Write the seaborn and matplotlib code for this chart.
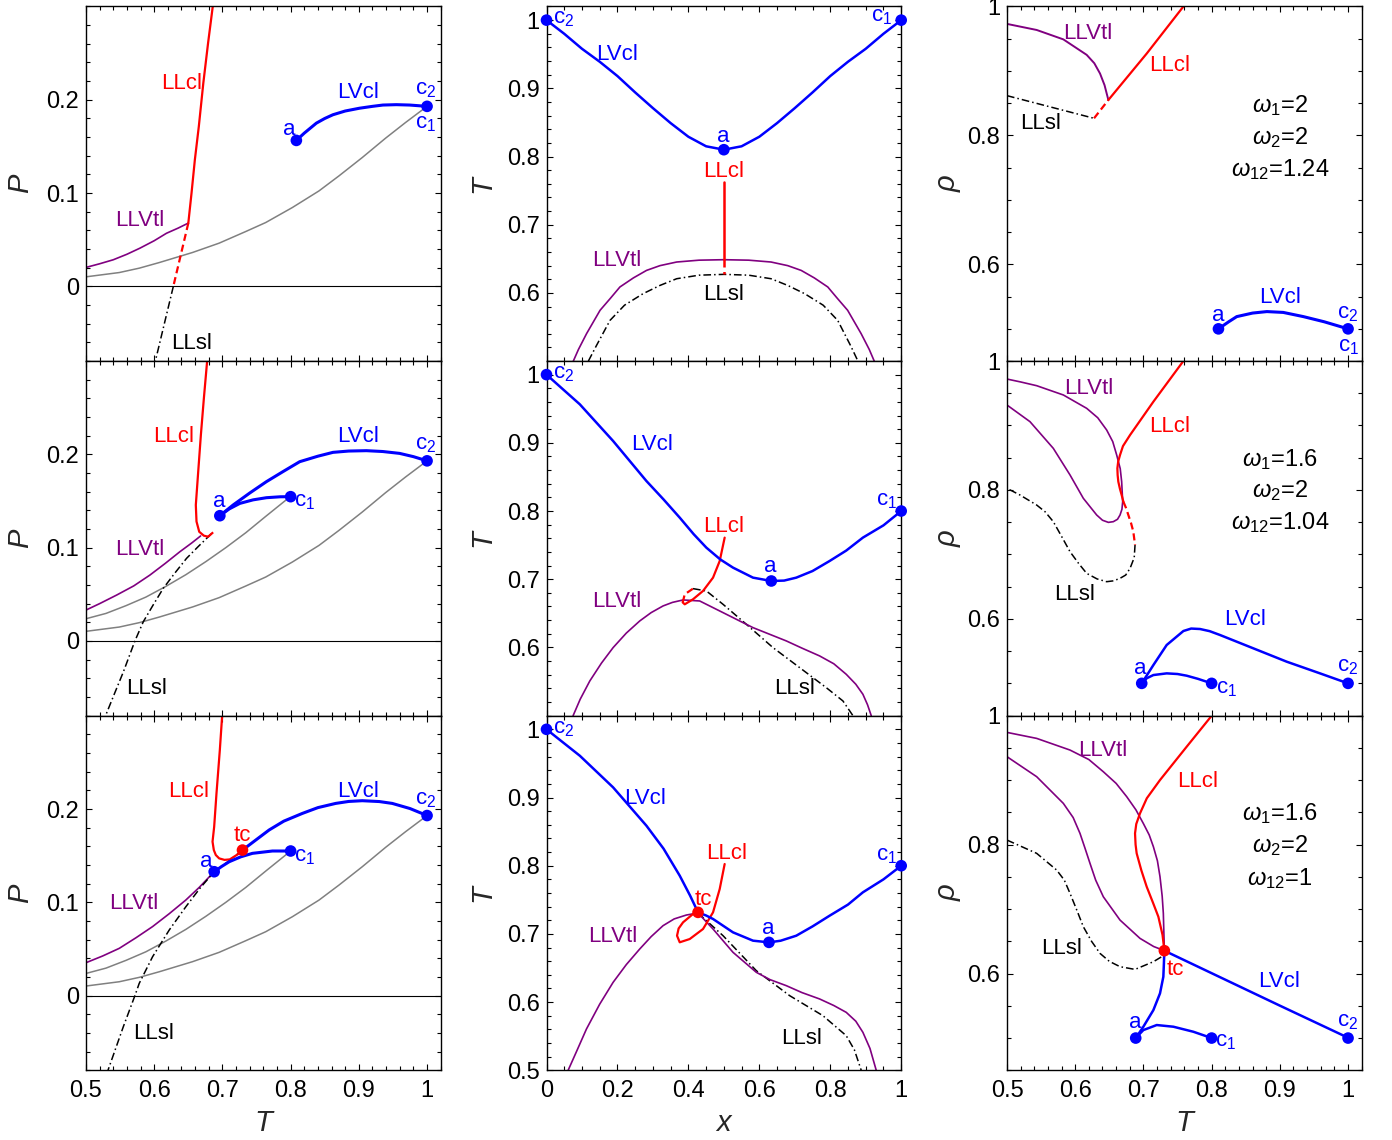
import numpy as np
import pandas as pd
import matplotlib
matplotlib.use("Agg")
import matplotlib.pyplot as plt
from matplotlib.ticker import MultipleLocator, FixedLocator, FuncFormatter
import seaborn as sns

sns.set_style("ticks")
plt.rcParams['font.family'] = ['Liberation Sans', 'DejaVu Sans']
plt.rcParams['mathtext.fontset'] = 'custom'
plt.rcParams['mathtext.rm'] = 'Liberation Sans'
plt.rcParams['mathtext.it'] = 'Liberation Sans:italic'
plt.rcParams['mathtext.bf'] = 'Liberation Sans:bold'

# ---------------- shared vapour-pressure curves ----------------
vp2_T = [0.5, 0.5488, 0.5781, 0.6074, 0.6562, 0.6952, 0.7343, 0.7635, 0.8026, 0.8416, 0.8709, 0.9051, 0.9392, 0.9685, 1.0]
vp2_P = [0.0103, 0.0149, 0.0196, 0.0256, 0.0364, 0.0464, 0.0589, 0.0685, 0.0846, 0.1024, 0.1185, 0.1382, 0.1589, 0.1757, 0.193]
vp1_T = [0.5, 0.5293, 0.5586, 0.5878, 0.6171, 0.6464, 0.6757, 0.705, 0.7343, 0.7635, 0.800]
vp1_P = [0.0238, 0.0295, 0.0378, 0.0470, 0.0585, 0.0710, 0.0850, 0.1000, 0.1160, 0.1335, 0.1550]

# ---------------- row 1 (w1=2, w2=2, w12=1.24) ----------------
r1_pt_llcl_T = [0.688, 0.686, 0.679, 0.672, 0.6654, 0.6596, 0.6547, 0.650]
r1_pt_llcl_P = [0.310, 0.301, 0.261, 0.218, 0.1715, 0.1358, 0.100, 0.0679]
r1_pt_llcl_ms_T = [0.650, 0.628]
r1_pt_llcl_ms_P = [0.0679, 0.0]
r1_pt_llsl_T = [0.628, 0.601, 0.597]
r1_pt_llsl_P = [0.0, -0.082, -0.095]
r1_pt_llvtl_T = [0.5, 0.52, 0.540, 0.56, 0.579, 0.60, 0.618, 0.635, 0.650]
r1_pt_llvtl_P = [0.0204, 0.0243, 0.0286, 0.0345, 0.041, 0.049, 0.057, 0.0625, 0.0679]
r1_pt_lvcl_T = [0.8084, 0.82, 0.8377, 0.85, 0.862, 0.88, 0.901, 0.92, 0.9353, 0.955, 0.9744, 1.0]
r1_pt_lvcl_P = [0.1565, 0.1643, 0.175, 0.180, 0.184, 0.188, 0.191, 0.193, 0.1944, 0.1948, 0.1944, 0.193]
r1_pt_pts_T = [0.8084, 1.0]
r1_pt_pts_P = [0.1565, 0.193]

r1_tx_lvcl_x = [0.0, 0.05, 0.1, 0.15, 0.2, 0.25, 0.3, 0.35, 0.4, 0.45, 0.5,
                0.55, 0.6, 0.65, 0.7, 0.75, 0.8, 0.85, 0.9, 0.95, 1.0]
r1_tx_lvcl_T = [1.0, 0.980, 0.958, 0.939, 0.918, 0.894, 0.871, 0.849, 0.829, 0.815, 0.810,
                0.815, 0.829, 0.849, 0.871, 0.894, 0.918, 0.939, 0.958, 0.980, 1.0]
r1_tx_llcl_x = [0.5, 0.5]
r1_tx_llcl_T = [0.762, 0.649]
r1_tx_llcl_ms_x = [0.5, 0.5]
r1_tx_llcl_ms_T = [0.649, 0.627]
r1_tx_llvtl_x = [0.0756, 0.09, 0.113, 0.151, 0.18, 0.207, 0.245, 0.282, 0.32, 0.367, 0.43, 0.5,
                 0.57, 0.633, 0.68, 0.718, 0.755, 0.793, 0.82, 0.849, 0.887, 0.91, 0.924]
r1_tx_llvtl_T = [0.5, 0.517, 0.5403, 0.5745, 0.592, 0.6087, 0.622, 0.633, 0.640, 0.6453, 0.648, 0.6487,
                 0.648, 0.6453, 0.640, 0.633, 0.622, 0.6087, 0.592, 0.5745, 0.5403, 0.517, 0.5]
r1_tx_llsl_x = [0.118, 0.14, 0.179, 0.22, 0.272, 0.32, 0.367, 0.43, 0.5,
                0.57, 0.633, 0.68, 0.728, 0.78, 0.821, 0.858, 0.878]
r1_tx_llsl_T = [0.5, 0.522, 0.5597, 0.582, 0.5988, 0.611, 0.6208, 0.626, 0.6272,
                0.626, 0.6208, 0.611, 0.5988, 0.582, 0.5597, 0.522, 0.5]
r1_tx_pts_x = [0.0, 0.5, 1.0]
r1_tx_pts_T = [1.0, 0.810, 1.0]

r1_rt_llvtl_T = [0.5, 0.5435, 0.5826, 0.6168, 0.628, 0.6364, 0.6430, 0.6486]
r1_rt_llvtl_r = [0.973, 0.9636, 0.949, 0.925, 0.912, 0.896, 0.878, 0.855]
r1_rt_llcl_T = [0.6486, 0.7048, 0.7586]
r1_rt_llcl_r = [0.855, 0.927, 1.0]
r1_rt_llcl_ms_T = [0.6276, 0.6486]
r1_rt_llcl_ms_r = [0.8266, 0.855]
r1_rt_llsl_T = [0.5, 0.6276]
r1_rt_llsl_r = [0.8617, 0.8266]
r1_rt_lvcl_T = [0.81, 0.825, 0.8368, 0.86, 0.881, 0.905, 0.9345, 0.965, 1.0]
r1_rt_lvcl_r = [0.5, 0.511, 0.519, 0.5245, 0.5268, 0.5255, 0.519, 0.511, 0.5]
r1_rt_pts_T = [0.81, 1.0]
r1_rt_pts_r = [0.5, 0.5]

# ---------------- row 2 (w1=1.6, w2=2, w12=1.04) ----------------
r2_pt_llcl_T = [0.679, 0.6776, 0.6728, 0.6684, 0.6645, 0.661, 0.662, 0.666, 0.6728, 0.679]
r2_pt_llcl_P = [0.310, 0.300, 0.260, 0.2207, 0.1814, 0.1457, 0.128, 0.117, 0.1128, 0.1117]
r2_pt_llcl_ms_T = [0.679, 0.6864]
r2_pt_llcl_ms_P = [0.1117, 0.1164]
r2_pt_llsl_T = [0.684, 0.665, 0.6474, 0.630, 0.6132, 0.598, 0.584, 0.5717, 0.5547, 0.542, 0.530, 0.525]
r2_pt_llsl_P = [0.1150, 0.1015, 0.0885, 0.0725, 0.0563, 0.038, 0.0206, 0.0, -0.0333, -0.056, -0.0777, -0.090]
r2_pt_llvtl_T = [0.5, 0.52, 0.545, 0.57, 0.5937, 0.616, 0.6376, 0.655, 0.668]
r2_pt_llvtl_P = [0.0331, 0.040, 0.0492, 0.059, 0.0706, 0.083, 0.0956, 0.105, 0.1125]
r2_pt_lvcl1_T = [0.6962, 0.710, 0.7255, 0.745, 0.7645, 0.785, 0.800]
r2_pt_lvcl1_P = [0.1342, 0.1415, 0.1474, 0.1512, 0.1535, 0.1545, 0.1546]
r2_pt_lvcl2_T = [0.6962, 0.7157, 0.74, 0.7645, 0.79, 0.8133, 0.84, 0.8621, 0.885, 0.911, 0.935, 0.9597, 0.98, 1.0]
r2_pt_lvcl2_P = [0.1342, 0.1457, 0.1585, 0.1707, 0.182, 0.1921, 0.198, 0.2021, 0.2035, 0.2039, 0.2030, 0.201, 0.1975, 0.193]
r2_pt_pts_T = [0.6962, 0.800, 1.0]
r2_pt_pts_P = [0.1342, 0.1546, 0.193]

r2_tx_lvcl_x = [0.0, 0.0939, 0.1878, 0.2817, 0.33, 0.3756, 0.415, 0.4507, 0.49, 0.5258, 0.5822, 0.6338,
                0.67, 0.7042, 0.75, 0.7981, 0.845, 0.892, 0.95, 1.0]
r2_tx_lvcl_T = [1.0, 0.9565, 0.9027, 0.844, 0.817, 0.7903, 0.766, 0.7463, 0.729, 0.717, 0.7023, 0.6974,
                0.698, 0.7023, 0.712, 0.7267, 0.742, 0.761, 0.779, 0.80]
r2_tx_llcl_x = [0.5023, 0.4883, 0.4695, 0.4413, 0.4131, 0.3897, 0.3840]
r2_tx_llcl_T = [0.761, 0.7267, 0.7023, 0.6828, 0.6706, 0.6632, 0.6660]
r2_tx_llcl_ms_x = [0.384, 0.3897, 0.4131]
r2_tx_llcl_ms_T = [0.666, 0.6779, 0.6862]
r2_tx_llsl_x = [0.4131, 0.4507, 0.4977, 0.5634, 0.6385, 0.7136, 0.7887, 0.8357, 0.8638]
r2_tx_llsl_T = [0.6862, 0.6828, 0.6632, 0.6339, 0.5997, 0.5704, 0.541, 0.5215, 0.5]
r2_tx_llvtl_x = [0.0751, 0.095, 0.1221, 0.155, 0.1878, 0.225, 0.2629, 0.295, 0.3286, 0.355, 0.385, 0.4319,
                 0.4977, 0.5822, 0.6761, 0.72, 0.77, 0.81, 0.845, 0.872, 0.892, 0.905, 0.9155]
r2_tx_llvtl_T = [0.5, 0.524, 0.5508, 0.577, 0.5997, 0.621, 0.6388, 0.651, 0.6608, 0.666, 0.6696, 0.6681,
                 0.651, 0.629, 0.6095, 0.599, 0.5875, 0.576, 0.5606, 0.546, 0.5313, 0.516, 0.5]
r2_tx_pts_x = [0.0, 0.6338, 1.0]
r2_tx_pts_T = [1.0, 0.6974, 0.80]

r2_rt_llvtl_T = [0.5, 0.52, 0.5435, 0.5826, 0.6168, 0.6330, 0.6461, 0.655, 0.6608, 0.6660, 0.6681, 0.6696,
                 0.6685, 0.6657, 0.662, 0.6559, 0.6486, 0.640, 0.6315, 0.6119, 0.5924, 0.5679, 0.5337, 0.5]
r2_rt_llvtl_r = [0.972, 0.9675, 0.9617, 0.9473, 0.9266, 0.912, 0.893, 0.875, 0.8542, 0.833, 0.8128, 0.7818,
                 0.770, 0.7611, 0.7545, 0.7508, 0.7497, 0.753, 0.7611, 0.787, 0.8232, 0.8645, 0.9059, 0.9317]
r2_rt_llcl_T = [0.7586, 0.7146, 0.6804, 0.6700, 0.6657, 0.6630, 0.6618, 0.6622, 0.6632, 0.6655, 0.6681, 0.6706]
r2_rt_llcl_r = [1.0, 0.9369, 0.8852, 0.868, 0.8542, 0.844, 0.8335, 0.823, 0.8128, 0.802, 0.7921, 0.7818]
r2_rt_llcl_ms_T = [0.6706, 0.6745, 0.6779, 0.6820, 0.6852, 0.6877]
r2_rt_llcl_ms_r = [0.7818, 0.772, 0.7611, 0.748, 0.7353, 0.7146]
r2_rt_llsl_T = [0.6877, 0.6865, 0.6804, 0.6740, 0.6657, 0.6560, 0.6461, 0.6320, 0.6168, 0.6050, 0.5924,
                0.580, 0.5679, 0.556, 0.5435, 0.5191, 0.502]
r2_rt_llsl_r = [0.7146, 0.695, 0.6784, 0.668, 0.6629, 0.659, 0.6577, 0.662, 0.6706, 0.686, 0.7042,
                0.728, 0.7508, 0.766, 0.7766, 0.7921, 0.8014]
r2_rt_lvcl1_T = [0.6975, 0.705, 0.7146, 0.7341, 0.75, 0.7634, 0.78, 0.80]
r2_rt_lvcl1_r = [0.5, 0.508, 0.5129, 0.5155, 0.5145, 0.5119, 0.507, 0.5]
r2_rt_lvcl2_T = [0.6975, 0.7146, 0.7341, 0.7586, 0.770, 0.783, 0.797, 0.8123, 0.8612, 0.9101, 0.9589, 1.0]
r2_rt_lvcl2_r = [0.5, 0.5284, 0.5595, 0.5812, 0.585, 0.5843, 0.581, 0.575, 0.5543, 0.5336, 0.5155, 0.5]
r2_rt_pts_T = [0.6975, 0.80, 1.0]
r2_rt_pts_r = [0.5, 0.5, 0.5]

# ---------------- row 3 (w1=1.6, w2=2, w12=1) ----------------
r3_pt_llcl_T = [0.7006, 0.6996, 0.6962, 0.6913, 0.6879, 0.6855, 0.6874, 0.6903, 0.6952, 0.7030, 0.7108, 0.723, 0.7294]
r3_pt_llcl_P = [0.310, 0.300, 0.2632, 0.2168, 0.181, 0.165, 0.156, 0.1507, 0.1471, 0.1455, 0.146, 0.1517, 0.156]
r3_pt_llvtl_T = [0.5, 0.5244, 0.5488, 0.5732, 0.5976, 0.622, 0.6464, 0.666, 0.6879]
r3_pt_llvtl_P = [0.0353, 0.0425, 0.0507, 0.062, 0.074, 0.0878, 0.1025, 0.116, 0.1328]
r3_pt_llsl_T = [0.7294, 0.7090, 0.6879, 0.667, 0.6464, 0.622, 0.5976, 0.578, 0.5717, 0.5547, 0.5327, 0.528]
r3_pt_llsl_P = [0.156, 0.1440, 0.1328, 0.1150, 0.0953, 0.0703, 0.0417, 0.0131, 0.0, -0.0333, -0.079, -0.090]
r3_pt_lvcl2_T = [0.7294, 0.7684, 0.79, 0.8172, 0.84, 0.866, 0.885, 0.905, 0.93, 0.949, 0.975, 1.0]
r3_pt_lvcl2_P = [0.156, 0.1775, 0.187, 0.1953, 0.2015, 0.206, 0.2081, 0.2089, 0.2080, 0.206, 0.2005, 0.193]
r3_pt_lvcl1_T = [0.6879, 0.6990, 0.7099, 0.727, 0.744, 0.7733, 0.800]
r3_pt_lvcl1_P = [0.1328, 0.1385, 0.1435, 0.1488, 0.1525, 0.1550, 0.1550]
r3_pt_pts_T = [0.6879, 0.800, 1.0]
r3_pt_pts_P = [0.1328, 0.1550, 0.193]
r3_pt_tc_T = [0.7294]
r3_pt_tc_P = [0.156]

r3_tx_lvcl_x = [0.0, 0.0939, 0.1878, 0.2817, 0.33, 0.3756, 0.405, 0.4272, 0.45, 0.4695, 0.5258, 0.5822, 0.6272,
                0.66, 0.7042, 0.75, 0.7981, 0.85, 0.892, 0.95, 1.0]
r3_tx_lvcl_T = [1.0, 0.9613, 0.9149, 0.8587, 0.825, 0.7854, 0.756, 0.7316, 0.727, 0.7219, 0.7023, 0.6901, 0.6876,
                0.690, 0.6974, 0.711, 0.7267, 0.743, 0.761, 0.780, 0.80]
r3_tx_llcl_x = [0.5023, 0.4883, 0.4695, 0.4413, 0.4038, 0.3756, 0.368, 0.3725, 0.385, 0.4131, 0.4272]
r3_tx_llcl_T = [0.8025, 0.7658, 0.7316, 0.7072, 0.6925, 0.6877, 0.6974, 0.708, 0.717, 0.7292, 0.7316]
r3_tx_llvtl_x = [0.061, 0.085, 0.1127, 0.15, 0.1878, 0.225, 0.2629, 0.295, 0.3286, 0.36, 0.3944, 0.4272,
                 0.4695, 0.5258, 0.5915, 0.63, 0.6761, 0.72, 0.77, 0.81, 0.845, 0.872, 0.892, 0.912, 0.9296]
r3_tx_llvtl_T = [0.5, 0.528, 0.5606, 0.597, 0.629, 0.655, 0.6779, 0.696, 0.7121, 0.722, 0.7277, 0.7307,
                 0.7072, 0.673, 0.6437, 0.633, 0.6241, 0.614, 0.6046, 0.595, 0.585, 0.572, 0.5557, 0.532, 0.5]
r3_tx_llsl_x = [0.4272, 0.4977, 0.5915, 0.6854, 0.7793, 0.845, 0.868, 0.8873, 0.895]
r3_tx_llsl_T = [0.7307, 0.6974, 0.6461, 0.6095, 0.5801, 0.5508, 0.530, 0.5, 0.49]
r3_tx_pts_x = [0.0, 0.6272, 1.0]
r3_tx_pts_T = [1.0, 0.6876, 0.80]
r3_tx_tc_x = [0.4272]
r3_tx_tc_T = [0.7316]

r3_rt_llvtl_up_T = [0.5, 0.5435, 0.5924, 0.62, 0.6412, 0.66, 0.6755, 0.689, 0.70, 0.7085, 0.7146, 0.7205,
                    0.7243, 0.7275, 0.7292, 0.7307]
r3_rt_llvtl_up_r = [0.9741, 0.9648, 0.9467, 0.932, 0.9131, 0.895, 0.8744, 0.854, 0.8326, 0.815, 0.7968, 0.775,
                    0.7503, 0.72, 0.6934, 0.6355]
r3_rt_llvtl_lo_T = [0.5, 0.5435, 0.5826, 0.597, 0.607, 0.6145, 0.6217, 0.630, 0.6412, 0.6657, 0.695, 0.715, 0.7307]
r3_rt_llvtl_lo_r = [0.9364, 0.9054, 0.864, 0.842, 0.8175, 0.794, 0.7709, 0.745, 0.7192, 0.683, 0.6546, 0.642, 0.6355]
r3_rt_llcl_T = [0.8001, 0.7634, 0.7243, 0.705, 0.695, 0.6895, 0.6877, 0.6885, 0.6901, 0.697, 0.7048, 0.714,
                0.7219, 0.728, 0.7307]
r3_rt_llcl_r = [1.0, 0.9519, 0.9002, 0.872, 0.8485, 0.832, 0.8175, 0.80, 0.7865, 0.76, 0.7347, 0.71,
                0.6882, 0.66, 0.6355]
r3_rt_llsl_T = [0.5, 0.5435, 0.5728, 0.584, 0.5924, 0.6025, 0.6119, 0.6240, 0.6364, 0.650, 0.6657, 0.6877,
                0.7146, 0.7307]
r3_rt_llsl_r = [0.8071, 0.7865, 0.7606, 0.745, 0.7244, 0.698, 0.6727, 0.650, 0.6313, 0.619, 0.6107, 0.6065,
                0.6184, 0.6287]
r3_rt_lvcl2_T = [0.7307, 0.90, 1.0]
r3_rt_lvcl2_r = [0.6355, 0.5503, 0.5005]
r3_rt_lvcla_T = [0.7307, 0.7300, 0.7292, 0.7243, 0.7146, 0.6999, 0.6887]
r3_rt_lvcla_r = [0.6355, 0.615, 0.5951, 0.5693, 0.5434, 0.5176, 0.5]
r3_rt_lvcl1_T = [0.6887, 0.6999, 0.7195, 0.7439, 0.7732, 0.80]
r3_rt_lvcl1_r = [0.5, 0.5124, 0.5202, 0.5176, 0.5098, 0.5]
r3_rt_pts_T = [0.6887, 0.80, 1.0]
r3_rt_pts_r = [0.5, 0.5, 0.5]
r3_rt_tc_T = [0.7307]
r3_rt_tc_r = [0.6355]

omega_texts = [[r'$\omega_1$=2', r'$\omega_2$=2', r'$\omega_{12}$=1.24'],
               [r'$\omega_1$=1.6', r'$\omega_2$=2', r'$\omega_{12}$=1.04'],
               [r'$\omega_1$=1.6', r'$\omega_2$=2', r'$\omega_{12}$=1']]

BLUE = '#0000ff'
RED = '#ff0000'
PURPLE = '#800080'
GRAY = '#808080'
BLACK = '#000000'
DASHDOT = (0, (5, 2, 1, 2))
DASHED = (0, (3.2, 1.8))


def curve(ax, xs, ys, color, lw, ls='-', z=2):
    sns.lineplot(x=xs, y=ys, sort=False, estimator=None, ax=ax, color=color,
                 lw=lw, linestyle=ls, zorder=z)


def dots(ax, xs, ys, color, z=6):
    sns.scatterplot(x=xs, y=ys, ax=ax, color=color, s=70, edgecolor='none',
                    zorder=z, clip_on=False, legend=False)


def lab(ax, x, y, s, color, size=16):
    ax.text(x, y, s, color=color, fontsize=size, ha='center', va='center', zorder=7)


fig = plt.figure(figsize=(13.92, 11.40), dpi=100)
W = 1392.0
H = 1140.0
col_left = [86, 546.5, 1007]
row_top = [6.5, 361, 715.7]
aw = 354.7
ah = 354.6
axes = [[fig.add_axes([col_left[c] / W, 1 - (row_top[r] + ah) / H, aw / W, ah / H])
         for c in range(3)] for r in range(3)]

fmt = FuncFormatter(lambda v, p: '%g' % round(v, 3))
for r in range(3):
    for c in range(3):
        ax = axes[r][c]
        if c == 0:
            ax.xaxis.set_major_locator(FixedLocator([0.5, 0.6, 0.7, 0.8, 0.9, 1.0]))
            ax.xaxis.set_minor_locator(MultipleLocator(0.02))
            ax.yaxis.set_major_locator(FixedLocator([0.0, 0.1, 0.2]))
            ax.yaxis.set_minor_locator(MultipleLocator(0.02))
            ax.axhline(0.0, color=BLACK, lw=0.8, zorder=1)
            ax.set_ylabel('P', fontsize=21, fontstyle='italic')
        elif c == 1:
            ax.xaxis.set_major_locator(FixedLocator([0, 0.2, 0.4, 0.6, 0.8, 1.0]))
            ax.xaxis.set_minor_locator(MultipleLocator(0.05))
            yt = [0.5, 0.6, 0.7, 0.8, 0.9, 1.0] if r == 2 else [0.6, 0.7, 0.8, 0.9, 1.0]
            ax.yaxis.set_major_locator(FixedLocator(yt))
            ax.yaxis.set_minor_locator(MultipleLocator(0.02))
            ax.set_ylabel('T', fontsize=21, fontstyle='italic')
        else:
            ax.xaxis.set_major_locator(FixedLocator([0.5, 0.6, 0.7, 0.8, 0.9, 1.0]))
            ax.xaxis.set_minor_locator(MultipleLocator(0.02))
            ax.yaxis.set_major_locator(FixedLocator([0.6, 0.8, 1.0]))
            ax.yaxis.set_minor_locator(MultipleLocator(0.05))
            ax.set_ylabel('ρ', fontsize=21, fontstyle='italic')
        ax.xaxis.set_major_formatter(fmt)
        ax.yaxis.set_major_formatter(fmt)
        ax.tick_params(which='both', direction='in', top=True, right=True,
                       labelsize=17, width=0.8, colors=BLACK)
        ax.tick_params(which='major', length=4.6, pad=5)
        ax.tick_params(which='minor', length=2.8)
        ax.tick_params(axis='x', labelbottom=(r == 2), pad=7)
        for sp in ax.spines.values():
            sp.set_linewidth(1.0)
            sp.set_color(BLACK)
        ylx = {0: -0.186, 1: -0.182, 2: -0.166}[c]
        ax.yaxis.set_label_coords(ylx, 0.5)
        ax.yaxis.label.set_verticalalignment('center')
        if r == 2:
            ax.set_xlabel({0: 'T', 1: 'x', 2: 'T'}[c], fontsize=21, fontstyle='italic')
            ax.xaxis.set_label_coords(0.5, -0.149)
            ax.xaxis.label.set_verticalalignment('center')

# ---------------- row 1 ----------------
ax = axes[0][0]
curve(ax, vp2_T, vp2_P, GRAY, 1.1)
curve(ax, r1_pt_llvtl_T, r1_pt_llvtl_P, PURPLE, 1.2)
curve(ax, r1_pt_llcl_T, r1_pt_llcl_P, RED, 1.6)
curve(ax, r1_pt_llcl_ms_T, r1_pt_llcl_ms_P, RED, 1.6, DASHED)
curve(ax, r1_pt_llsl_T, r1_pt_llsl_P, BLACK, 1.1, DASHDOT)
curve(ax, r1_pt_lvcl_T, r1_pt_lvcl_P, BLUE, 2.2, z=3)
dots(ax, r1_pt_pts_T, r1_pt_pts_P, BLUE)
lab(ax, 0.640, 0.218, 'LLcl', RED)
lab(ax, 0.899, 0.208, 'LVcl', BLUE)
lab(ax, 0.998, 0.211, 'c$_2$', BLUE)
lab(ax, 0.998, 0.1743, 'c$_1$', BLUE)
lab(ax, 0.7987, 0.1686, 'a', BLUE)
lab(ax, 0.579, 0.0707, 'LLVtl', PURPLE)
lab(ax, 0.6547, -0.0615, 'LLsl', BLACK)

ax = axes[0][1]
curve(ax, r1_tx_llsl_x, r1_tx_llsl_T, BLACK, 1.1, DASHDOT)
curve(ax, r1_tx_llvtl_x, r1_tx_llvtl_T, PURPLE, 1.2)
curve(ax, r1_tx_llcl_x, r1_tx_llcl_T, RED, 1.8)
curve(ax, r1_tx_llcl_ms_x, r1_tx_llcl_ms_T, RED, 1.8, DASHED)
curve(ax, r1_tx_lvcl_x, r1_tx_lvcl_T, BLUE, 1.8, z=3)
dots(ax, r1_tx_pts_x, r1_tx_pts_T, BLUE)
lab(ax, 0.198, 0.949, 'LVcl', BLUE)
lab(ax, 0.498, 0.829, 'a', BLUE)
lab(ax, 0.498, 0.778, 'LLcl', RED)
lab(ax, 0.198, 0.6478, 'LLVtl', PURPLE)
lab(ax, 0.498, 0.597, 'LLsl', BLACK)
lab(ax, 0.047, 1.003, 'c$_2$', BLUE)
lab(ax, 0.944, 1.005, 'c$_1$', BLUE)

ax = axes[0][2]
curve(ax, r1_rt_llsl_T, r1_rt_llsl_r, BLACK, 1.1, DASHDOT)
curve(ax, r1_rt_llvtl_T, r1_rt_llvtl_r, PURPLE, 1.4)
curve(ax, r1_rt_llcl_T, r1_rt_llcl_r, RED, 1.6)
curve(ax, r1_rt_llcl_ms_T, r1_rt_llcl_ms_r, RED, 1.6, DASHED)
curve(ax, r1_rt_lvcl_T, r1_rt_lvcl_r, BLUE, 2.2, z=3)
dots(ax, r1_rt_pts_T, r1_rt_pts_r, BLUE)
lab(ax, 0.619, 0.958, 'LLVtl', PURPLE)
lab(ax, 0.739, 0.909, 'LLcl', RED)
lab(ax, 0.549, 0.818, 'LLsl', BLACK)
lab(ax, 0.90, 0.548, 'LVcl', BLUE)
lab(ax, 0.81, 0.521, 'a', BLUE)
lab(ax, 1.0, 0.524, 'c$_2$', BLUE)
lab(ax, 1.0, 0.472, 'c$_1$', BLUE)
for s, yy in zip(omega_texts[0], [0.8457, 0.797, 0.7474]):
    lab(ax, 0.9003, yy, s, BLACK, 17)

# ---------------- row 2 ----------------
ax = axes[1][0]
curve(ax, vp2_T, vp2_P, GRAY, 1.1)
curve(ax, vp1_T, vp1_P, GRAY, 1.1)
curve(ax, r2_pt_llvtl_T, r2_pt_llvtl_P, PURPLE, 1.2)
curve(ax, r2_pt_llsl_T, r2_pt_llsl_P, BLACK, 1.1, DASHDOT)
curve(ax, r2_pt_llcl_T, r2_pt_llcl_P, RED, 1.6)
curve(ax, r2_pt_llcl_ms_T, r2_pt_llcl_ms_P, RED, 1.6, DASHED)
curve(ax, r2_pt_lvcl1_T, r2_pt_lvcl1_P, BLUE, 2.2, z=3)
curve(ax, r2_pt_lvcl2_T, r2_pt_lvcl2_P, BLUE, 2.2, z=3)
dots(ax, r2_pt_pts_T, r2_pt_pts_P, BLUE)
lab(ax, 0.6279, 0.2189, 'LLcl', RED)
lab(ax, 0.8987, 0.2189, 'LVcl', BLUE)
lab(ax, 0.998, 0.210, 'c$_2$', BLUE)
lab(ax, 0.8206, 0.1492, 'c$_1$', BLUE)
lab(ax, 0.6952, 0.1492, 'a', BLUE)
lab(ax, 0.579, 0.0985, 'LLVtl', PURPLE)
lab(ax, 0.5888, -0.0508, 'LLsl', BLACK)

ax = axes[1][1]
curve(ax, r2_tx_llsl_x, r2_tx_llsl_T, BLACK, 1.1, DASHDOT)
curve(ax, r2_tx_llvtl_x, r2_tx_llvtl_T, PURPLE, 1.2)
curve(ax, r2_tx_llcl_x, r2_tx_llcl_T, RED, 1.6)
curve(ax, r2_tx_llcl_ms_x, r2_tx_llcl_ms_T, RED, 1.6, DASHED)
curve(ax, r2_tx_lvcl_x, r2_tx_lvcl_T, BLUE, 1.8, z=3)
dots(ax, r2_tx_pts_x, r2_tx_pts_T, BLUE)
lab(ax, 0.299, 0.898, 'LVcl', BLUE)
lab(ax, 0.498, 0.777, 'LLcl', RED)
lab(ax, 0.63, 0.7184, 'a', BLUE)
lab(ax, 0.198, 0.6671, 'LLVtl', PURPLE)
lab(ax, 0.70, 0.54, 'LLsl', BLACK)
lab(ax, 0.047, 1.002, 'c$_2$', BLUE)
lab(ax, 0.958, 0.815, 'c$_1$', BLUE)

ax = axes[1][2]
curve(ax, r2_rt_llsl_T, r2_rt_llsl_r, BLACK, 1.1, DASHDOT)
curve(ax, r2_rt_llvtl_T, r2_rt_llvtl_r, PURPLE, 1.2)
curve(ax, r2_rt_llcl_T, r2_rt_llcl_r, RED, 1.6)
curve(ax, r2_rt_llcl_ms_T, r2_rt_llcl_ms_r, RED, 1.6, DASHED)
curve(ax, r2_rt_lvcl1_T, r2_rt_lvcl1_r, BLUE, 1.8, z=3)
curve(ax, r2_rt_lvcl2_T, r2_rt_lvcl2_r, BLUE, 1.8, z=3)
dots(ax, r2_rt_pts_T, r2_rt_pts_r, BLUE)
lab(ax, 0.6193, 0.9576, 'LLVtl', PURPLE)
lab(ax, 0.739, 0.8981, 'LLcl', RED)
lab(ax, 0.5997, 0.638, 'LLsl', BLACK)
lab(ax, 0.849, 0.5983, 'LVcl', BLUE)
lab(ax, 0.695, 0.5233, 'a', BLUE)
lab(ax, 0.822, 0.4923, 'c$_1$', BLUE)
lab(ax, 1.0, 0.526, 'c$_2$', BLUE)
for s, yy in zip(omega_texts[1], [0.8464, 0.7983, 0.7492]):
    lab(ax, 0.9003, yy, s, BLACK, 17)

# ---------------- row 3 ----------------
ax = axes[2][0]
curve(ax, vp2_T, vp2_P, GRAY, 1.1)
curve(ax, vp1_T, vp1_P, GRAY, 1.1)
curve(ax, r3_pt_llvtl_T, r3_pt_llvtl_P, PURPLE, 1.2)
curve(ax, r3_pt_llsl_T, r3_pt_llsl_P, BLACK, 1.1, DASHDOT)
curve(ax, r3_pt_llcl_T, r3_pt_llcl_P, RED, 1.6)
curve(ax, r3_pt_lvcl1_T, r3_pt_lvcl1_P, BLUE, 2.2, z=3)
curve(ax, r3_pt_lvcl2_T, r3_pt_lvcl2_P, BLUE, 2.2, z=3)
dots(ax, r3_pt_pts_T, r3_pt_pts_P, BLUE)
dots(ax, r3_pt_tc_T, r3_pt_tc_P, RED, z=7)
lab(ax, 0.6498, 0.2185, 'LLcl', RED)
lab(ax, 0.7294, 0.172, 'tc', RED)
lab(ax, 0.8987, 0.2185, 'LVcl', BLUE)
lab(ax, 0.998, 0.2103, 'c$_2$', BLUE)
lab(ax, 0.6767, 0.1435, 'a', BLUE)
lab(ax, 0.8206, 0.1489, 'c$_1$', BLUE)
lab(ax, 0.5693, 0.0989, 'LLVtl', PURPLE)
lab(ax, 0.5986, -0.0405, 'LLsl', BLACK)

ax = axes[2][1]
curve(ax, r3_tx_llsl_x, r3_tx_llsl_T, BLACK, 1.1, DASHDOT)
curve(ax, r3_tx_llvtl_x, r3_tx_llvtl_T, PURPLE, 1.2)
curve(ax, r3_tx_llcl_x, r3_tx_llcl_T, RED, 1.6)
curve(ax, r3_tx_lvcl_x, r3_tx_lvcl_T, BLUE, 1.8, z=3)
dots(ax, r3_tx_pts_x, r3_tx_pts_T, BLUE)
dots(ax, r3_tx_tc_x, r3_tx_tc_T, RED, z=7)
lab(ax, 0.2775, 0.8988, 'LVcl', BLUE)
lab(ax, 0.5075, 0.8181, 'LLcl', RED)
lab(ax, 0.4418, 0.7507, 'tc', RED)
lab(ax, 0.625, 0.7082, 'a', BLUE)
lab(ax, 0.188, 0.696, 'LLVtl', PURPLE)
lab(ax, 0.719, 0.5469, 'LLsl', BLACK)
lab(ax, 0.0474, 1.0014, 'c$_2$', BLUE)
lab(ax, 0.958, 0.815, 'c$_1$', BLUE)

ax = axes[2][2]
curve(ax, r3_rt_llsl_T, r3_rt_llsl_r, BLACK, 1.1, DASHDOT)
curve(ax, r3_rt_llvtl_up_T, r3_rt_llvtl_up_r, PURPLE, 1.2)
curve(ax, r3_rt_llvtl_lo_T, r3_rt_llvtl_lo_r, PURPLE, 1.2)
curve(ax, r3_rt_llcl_T, r3_rt_llcl_r, RED, 1.6)
curve(ax, r3_rt_lvcl2_T, r3_rt_lvcl2_r, BLUE, 1.8, z=3)
curve(ax, r3_rt_lvcla_T, r3_rt_lvcla_r, BLUE, 1.8, z=3)
curve(ax, r3_rt_lvcl1_T, r3_rt_lvcl1_r, BLUE, 1.8, z=3)
dots(ax, r3_rt_pts_T, r3_rt_pts_r, BLUE)
dots(ax, r3_rt_tc_T, r3_rt_tc_r, RED, z=7)
lab(ax, 0.6403, 0.9467, 'LLVtl', PURPLE)
lab(ax, 0.7791, 0.8987, 'LLcl', RED)
lab(ax, 0.5802, 0.6391, 'LLsl', BLACK)
lab(ax, 0.7463, 0.6065, 'tc', RED)
lab(ax, 0.8993, 0.5874, 'LVcl', BLUE)
lab(ax, 0.6877, 0.5238, 'a', BLUE)
lab(ax, 0.8211, 0.4943, 'c$_1$', BLUE)
lab(ax, 0.9995, 0.5253, 'c$_2$', BLUE)
for s, yy in zip(omega_texts[2], [0.8485, 0.7983, 0.7477]):
    lab(ax, 0.9003, yy, s, BLACK, 17)

# limits (after seaborn drawing)
for r in range(3):
    axes[r][0].set_xlim(0.5, 1.02); axes[r][0].set_ylim(-0.08, 0.3)
    axes[r][1].set_xlim(0.0, 1.0); axes[r][1].set_ylim(0.5, 1.02)
    axes[r][2].set_xlim(0.5, 1.02); axes[r][2].set_ylim(0.45, 1.0)

fig.savefig('out.png', dpi=100)
